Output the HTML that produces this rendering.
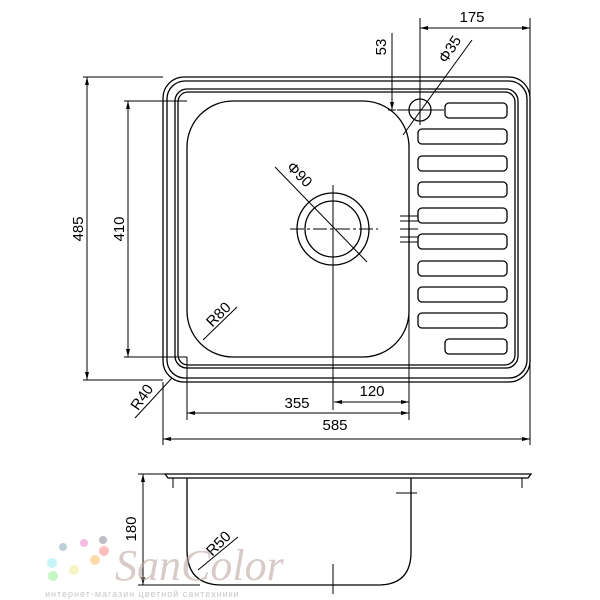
<!DOCTYPE html>
<html><head><style>body{margin:0;background:#fff}svg{display:block}</style></head><body>
<svg width="600" height="600" viewBox="0 0 600 600" xmlns="http://www.w3.org/2000/svg" font-family="Liberation Sans, DejaVu Sans, sans-serif">
<g fill="none" stroke="#000" stroke-width="1.3">
<rect x="163" y="77" width="367" height="305" rx="21"/>
<rect x="167" y="81" width="360" height="297" rx="18"/>
<rect x="175" y="89" width="343" height="279" rx="12"/>
<rect x="178" y="92" width="337" height="273" rx="10"/>
<rect x="187" y="101" width="222" height="256" rx="46"/>
<circle cx="333" cy="229" r="36"/>
<circle cx="333" cy="229" r="28"/>
<circle cx="420" cy="110" r="11"/>
<rect x="445" y="103" width="62" height="15" rx="4"/>
<rect x="418" y="129" width="89" height="15" rx="4"/>
<rect x="418" y="156" width="89" height="15" rx="4"/>
<rect x="418" y="182" width="89" height="15" rx="4"/>
<rect x="418" y="208" width="89" height="15" rx="4"/>
<rect x="418" y="234" width="89" height="15" rx="4"/>
<rect x="418" y="261" width="89" height="15" rx="4"/>
<rect x="418" y="287" width="89" height="15" rx="4"/>
<rect x="418" y="313" width="89" height="15" rx="4"/>
<rect x="445" y="339" width="62" height="15" rx="4"/>
</g>
<g fill="none" stroke="#000" stroke-width="1">
<path d="M290 229H378" stroke-dasharray="14 3 3 3"/>
<path d="M333 185V410"/>
<path d="M275 167L367 262"/>
<path d="M397 110H444M420 18V125M472 40L403 135M392 33V110M388 110h8"/>
<path d="M400 216h18M400 221h18M400 229h18M400 237h18M400 242h18"/>
<path d="M237 307L203 340M172 378L135 418"/>
<path d="M83 77H163M124 101H187M124 357H187M83 380H163"/>
<path d="M87 77V380M128 101V357"/>
<path d="M163 382V445M530 18V445M187 357V420M409 150V420"/>
<path d="M334 402H409M187 413H409M163 439H530M420 28H530"/>
</g>
<g fill="#000">
<path d="M87 77l-2 8h4zM87 380l-2-8h4zM128 101l-2 8h4zM128 357l-2-8h4z"/>
<path d="M334 402l8-2v4zM409 402l-8-2v4zM187 413l8-2v4zM409 413l-8-2v4zM163 439l8-2v4zM530 439l-8-2v4zM420 28l8-2v4zM530 28l-8-2v4zM392 110l-2-8h4z"/>
</g>
<g font-size="15" fill="#000" text-anchor="middle">
<text x="372" y="396">120</text>
<text x="297" y="408">355</text>
<text x="335" y="430">585</text>
<text x="472" y="22">175</text>
<text transform="translate(386,47) rotate(-90)">53</text>
<text transform="translate(454,52) rotate(-57)">Φ35</text>
<text transform="translate(296,178) rotate(45)">Φ90</text>
<text transform="translate(222,318) rotate(-45)">R80</text>
<text transform="translate(146,400) rotate(-55)">R40</text>
<text transform="translate(83,229) rotate(-90)">485</text>
<text transform="translate(124,229) rotate(-90)">410</text>
<text transform="translate(136,529) rotate(-90)">180</text>
<text transform="translate(222,547) rotate(-45)">R50</text>
</g>
<!-- side view -->
<g fill="none" stroke="#000" stroke-width="1.3">
<path d="M165 474H531L528 478H168Z"/>
<path d="M187 478V550Q187 585 222 585H378Q411 585 411 552V478"/>
</g>
<g fill="none" stroke="#000" stroke-width="1">
<path d="M173 478V488M522 478V488M396 493h21M333 564V594"/>
<path d="M138 474H165M138 585H200M143 474V585"/>
<path d="M198 570L238 537"/>
</g>
<g fill="#000"><path d="M143 474l-2 8h4zM143 585l-2-8h4z"/></g>
<!-- watermark -->
<g opacity="0.55">
<circle cx="63" cy="547" r="4" fill="#8ab"/><circle cx="84" cy="543" r="4" fill="#e8c"/><circle cx="103" cy="540" r="4" fill="#889"/>
<circle cx="52" cy="563" r="5" fill="#9ee"/><circle cx="74" cy="570" r="5" fill="#ee9"/><circle cx="95" cy="560" r="5" fill="#fb6"/><circle cx="104" cy="551" r="5" fill="#f88"/><circle cx="53" cy="576" r="5" fill="#9e9"/>
<text x="115" y="580" font-family="Liberation Serif, serif" font-style="italic" font-size="44" fill="#b9a09a">SanColor</text>
<text x="45" y="597" font-size="9" fill="#999" letter-spacing="1">интернет-магазин цветной сантехники</text>
</g>
</svg>
</body></html>
